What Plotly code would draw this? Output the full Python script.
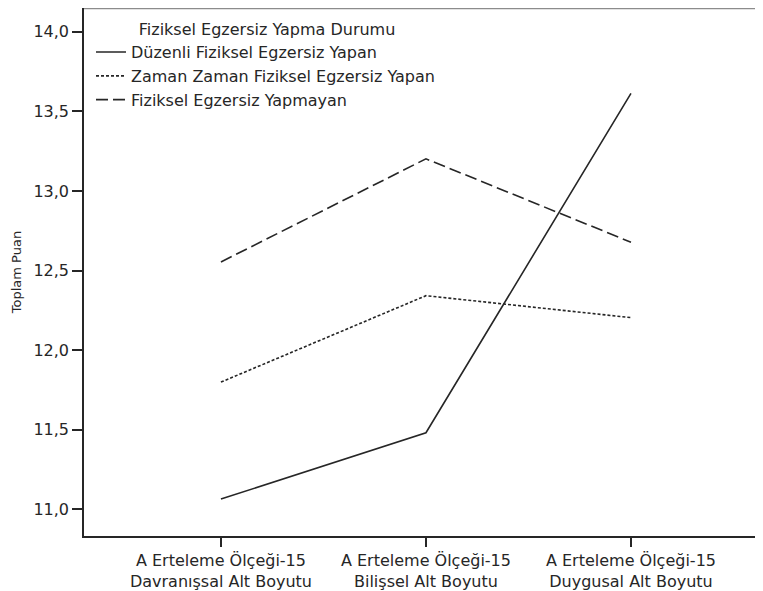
import plotly.graph_objects as go

categories = [
    "A Erteleme Ölçeği-15<br>Davranışsal Alt Boyutu",
    "A Erteleme Ölçeği-15<br>Bilişsel Alt Boyutu",
    "A Erteleme Ölçeği-15<br>Duygusal Alt Boyutu",
]
duzenli = [11.064, 11.481, 13.613]
zaman_zaman = [11.799, 12.342, 12.204]
yapmayan = [12.554, 13.202, 12.678]

series_names = [
    "Düzenli Fiziksel Egzersiz Yapan",
    "Zaman Zaman Fiziksel Egzersiz Yapan",
    "Fiziksel Egzersiz Yapmayan",
]
legend_title = "Fiziksel Egzersiz Yapma Durumu"
y_title = "Toplam Puan"
y_ticks = [11.0, 11.5, 12.0, 12.5, 13.0, 13.5, 14.0]

FONT = "DejaVu Sans, Verdana, sans-serif"
INK = "#262626"

fig = go.Figure()
for name, vals, dash in zip(series_names, [duzenli, zaman_zaman, yapmayan],
                            ["solid", "3px,2px", "12px,5px"]):
    fig.add_trace(go.Scatter(
        x=[0, 1, 2], y=vals, mode="lines", name=name,
        line=dict(color=INK, width=1.6, dash=dash),
    ))

fig.update_layout(
    width=755, height=583,
    margin=dict(l=76, r=0, t=0, b=51),
    paper_bgcolor="white", plot_bgcolor="white",
    font=dict(family=FONT, size=15, color=INK),
    separators=",.",
    showlegend=True,
    legend=dict(
        x=0.0103, y=0.988, xanchor="left", yanchor="top",
        bgcolor="rgba(0,0,0,0)", borderwidth=0,
        font=dict(size=16, color=INK),
        title=dict(text="\u00a0" * 9 + legend_title, side="top",
                   font=dict(size=16, color=INK)),
        tracegroupgap=0,
    ),
    xaxis=dict(
        tickmode="array", tickvals=[0, 1, 2], ticktext=categories,
        range=[-0.668, 2.644], showgrid=False, zeroline=False,
        showline=True, linecolor=INK, linewidth=1.5,
        ticks="outside", ticklen=9, tickcolor=INK, tickwidth=1.5,
        tickfont=dict(size=16, color=INK),
    ),
    yaxis=dict(
        range=[10.832, 14.1497], tickvals=y_ticks, tickformat=".1f",
        showgrid=False, zeroline=False,
        showline=True, linecolor=INK, linewidth=1.5,
        ticks="outside", ticklen=10, tickcolor=INK, tickwidth=1.5,
        tickfont=dict(size=16, color=INK),
        title=dict(text=y_title, font=dict(size=13, color=INK), standoff=9),
    ),
    shapes=[dict(type="line", xref="paper", yref="paper", x0=0, x1=1, y0=1, y1=1,
                 line=dict(color="#8c8c8c", width=2.5))],
)

fig.write_html("out.html")
